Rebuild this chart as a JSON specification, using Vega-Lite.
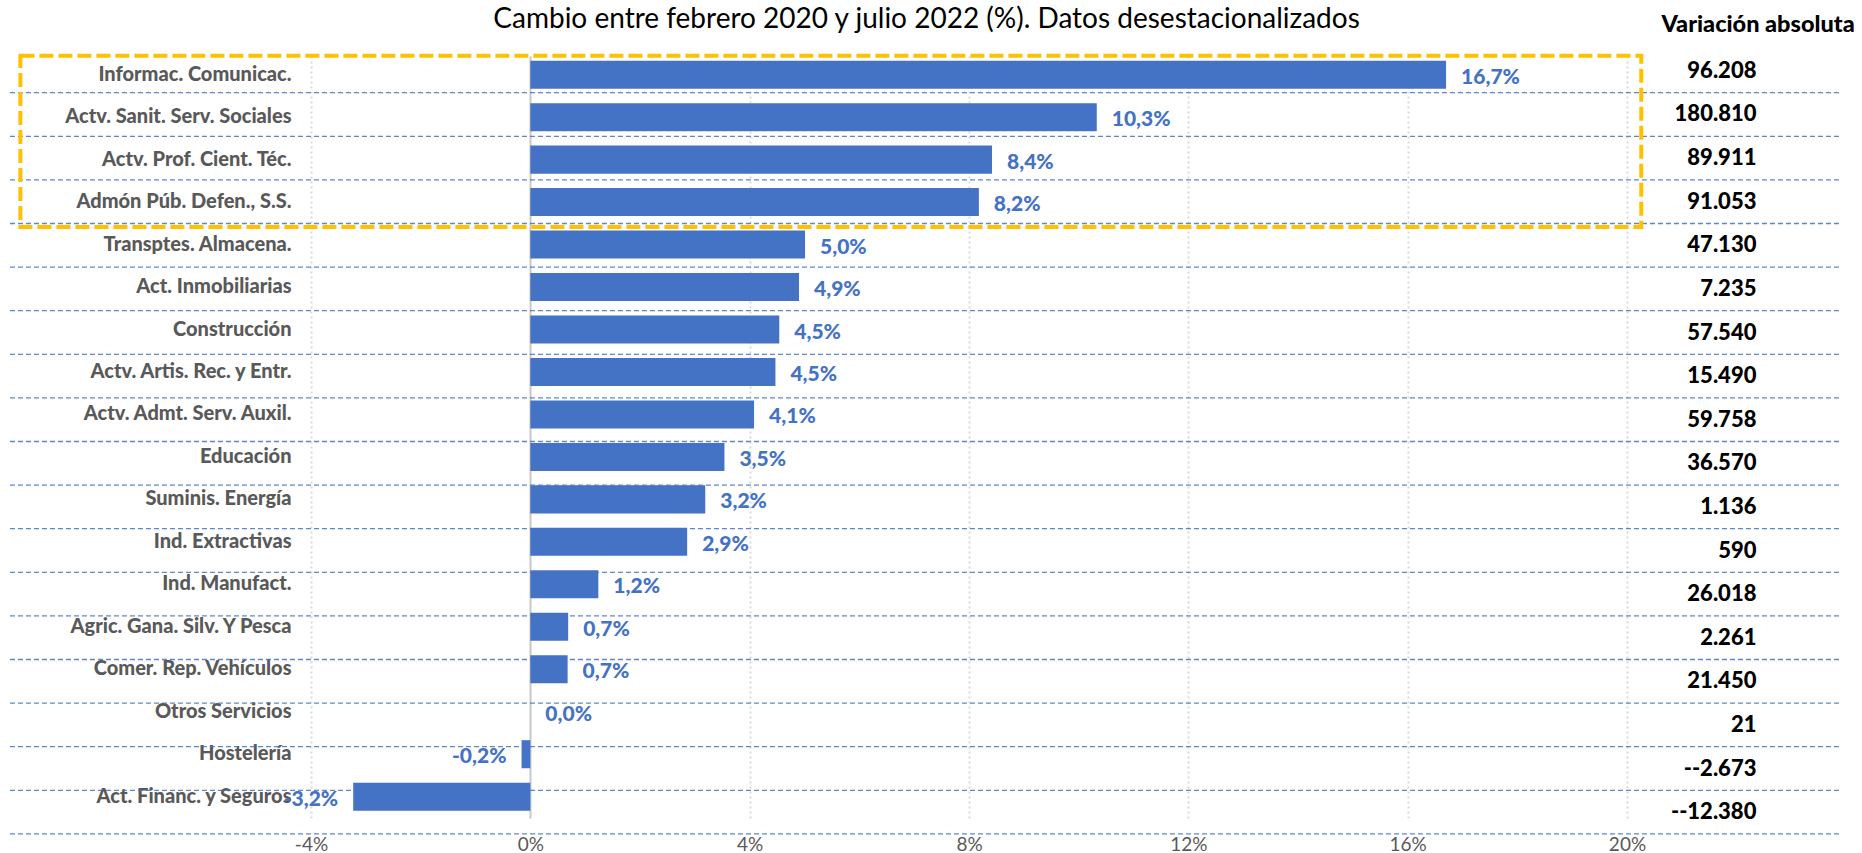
{
  "$schema": "https://vega.github.io/schema/vega-lite/v6.json",
  "width": 1316,
  "height": 762,
  "autosize": {"type": "none"},
  "padding": {"left": 311, "top": 56, "right": 235, "bottom": 35},
  "background": "white",
  "config": {
    "locale": {"number": {"decimal": ",", "thousands": ".", "grouping": [3], "currency": ["", " €"], "minus": "-"}},
    "view": {"stroke": null},
    "font": "Lato"
  },
  "data": {
    "values": [
      {"orden": 1, "sector": "Informac. Comunicac.", "cambio": 0.167, "absoluta": "96.208"},
      {"orden": 2, "sector": "Actv. Sanit. Serv. Sociales", "cambio": 0.1033, "absoluta": "180.810"},
      {"orden": 3, "sector": "Actv. Prof. Cient. Téc.", "cambio": 0.0842, "absoluta": "89.911"},
      {"orden": 4, "sector": "Admón Púb. Defen., S.S.", "cambio": 0.0818, "absoluta": "91.053"},
      {"orden": 5, "sector": "Transptes. Almacena.", "cambio": 0.0501, "absoluta": "47.130"},
      {"orden": 6, "sector": "Act. Inmobiliarias", "cambio": 0.049, "absoluta": "7.235"},
      {"orden": 7, "sector": "Construcción", "cambio": 0.0454, "absoluta": "57.540"},
      {"orden": 8, "sector": "Actv. Artis. Rec. y Entr.", "cambio": 0.0447, "absoluta": "15.490"},
      {"orden": 9, "sector": "Actv. Admt. Serv. Auxil.", "cambio": 0.0408, "absoluta": "59.758"},
      {"orden": 10, "sector": "Educación", "cambio": 0.0354, "absoluta": "36.570"},
      {"orden": 11, "sector": "Suminis. Energía", "cambio": 0.0319, "absoluta": "1.136"},
      {"orden": 12, "sector": "Ind. Extractivas", "cambio": 0.0286, "absoluta": "590"},
      {"orden": 13, "sector": "Ind. Manufact.", "cambio": 0.0124, "absoluta": "26.018"},
      {"orden": 14, "sector": "Agric. Gana. Silv. Y Pesca", "cambio": 0.0069, "absoluta": "2.261"},
      {"orden": 15, "sector": "Comer. Rep. Vehículos", "cambio": 0.0068, "absoluta": "21.450"},
      {"orden": 16, "sector": "Otros Servicios", "cambio": 0.0, "absoluta": "21"},
      {"orden": 17, "sector": "Hostelería", "cambio": -0.0016, "absoluta": "--2.673"},
      {"orden": 18, "sector": "Act. Financ. y Seguros", "cambio": -0.0323, "absoluta": "--12.380"}
    ]
  },
  "layer": [
    {
      "layer": [
        {
          "mark": {"type": "rule", "color": "#4472C4", "strokeWidth": 1.3, "strokeDash": [5, 3], "opacity": 0.85, "clip": false},
          "encoding": {
            "y": {"field": "orden", "type": "quantitative", "scale": {"domain": [0.1583, 17.635], "reverse": true, "nice": false, "zero": false}, "axis": null},
            "x": {"datum": -0.0949, "type": "quantitative"},
            "x2": {"datum": 0.2389}
          }
        },
        {
          "mark": {"type": "text", "align": "right", "baseline": "middle", "dy": -21.8, "font": "Lato", "fontSize": 22, "fontWeight": 900, "color": "#000000", "clip": false},
          "encoding": {
            "y": {"field": "orden", "type": "quantitative", "axis": null},
            "x": {"datum": 0.2236, "type": "quantitative"},
            "text": {"field": "absoluta", "type": "nominal"}
          }
        },
        {
          "data": {"values": [{}]},
          "mark": {"type": "text", "align": "center", "baseline": "alphabetic", "font": "Lato", "fontSize": 28, "color": "#000000", "clip": false},
          "encoding": {
            "x": {"datum": 0.07226, "type": "quantitative"},
            "y": {"datum": -0.484, "type": "quantitative"},
            "text": {"value": "Cambio entre febrero 2020 y julio 2022 (%). Datos desestacionalizados"}
          }
        },
        {
          "data": {"values": [{}]},
          "mark": {"type": "text", "align": "center", "baseline": "alphabetic", "font": "Lato", "fontSize": 23.5, "fontWeight": 900, "color": "#000000", "clip": false},
          "encoding": {
            "x": {"datum": 0.2239, "type": "quantitative"},
            "y": {"datum": -0.399, "type": "quantitative"},
            "text": {"value": "Variación absoluta"}
          }
        },
        {
          "data": {"values": [{}]},
          "mark": {"type": "rect", "filled": false, "stroke": "#FFC000", "strokeWidth": 4, "strokeDash": [14, 5], "clip": false},
          "encoding": {
            "x": {"datum": -0.093, "type": "quantitative"},
            "x2": {"datum": 0.2026},
            "y": {"datum": 0.151, "type": "quantitative"},
            "y2": {"datum": 4.08}
          }
        }
      ]
    },
    {
      "encoding": {
        "y": {
          "field": "sector", "type": "nominal", "sort": null,
          "scale": {"paddingInner": 0.34, "paddingOuter": 0.141, "align": 0.39},
          "axis": {"orient": "left", "title": null, "domain": false, "ticks": false, "labelPadding": 20, "labelFontSize": 20, "labelFontWeight": 900, "labelColor": "#595959", "labelFont": "Lato", "labelLimit": 400}
        },
        "x": {
          "field": "cambio", "type": "quantitative",
          "scale": {"domain": [-0.04, 0.2], "nice": false, "zero": false},
          "axis": {
            "title": null, "format": ".0%", "values": [-0.04, 0, 0.04, 0.08, 0.12, 0.16, 0.2],
            "domain": false, "ticks": false, "labelFlush": false, "labelPadding": 17, "labelFontSize": 19, "labelColor": "#595959", "labelFont": "Lato",
            "grid": true,
            "gridColor": {"condition": {"test": "datum.value === 0", "value": "#C8C8C8"}, "value": "#D9D9D9"},
            "gridDash": {"condition": {"test": "datum.value === 0", "value": []}, "value": [2, 3]},
            "gridWidth": 2
          }
        }
      },
      "layer": [
        {"mark": {"type": "bar", "color": "#4472C4"}},
        {
          "transform": [{"filter": "datum.cambio >= 0"}],
          "mark": {"type": "text", "align": "left", "baseline": "middle", "dx": 15, "dy": 3, "font": "Lato", "fontSize": 21, "fontWeight": 900, "color": "#4472C4"},
          "encoding": {"text": {"field": "cambio", "type": "quantitative", "format": ".1%"}}
        },
        {
          "transform": [{"filter": "datum.cambio < 0"}],
          "mark": {"type": "text", "align": "right", "baseline": "middle", "dx": -15, "dy": 3, "font": "Lato", "fontSize": 21, "fontWeight": 900, "color": "#4472C4"},
          "encoding": {"text": {"field": "cambio", "type": "quantitative", "format": ".1%"}}
        }
      ]
    }
  ],
  "resolve": {"scale": {"y": "independent"}, "axis": {"y": "independent"}}
}
